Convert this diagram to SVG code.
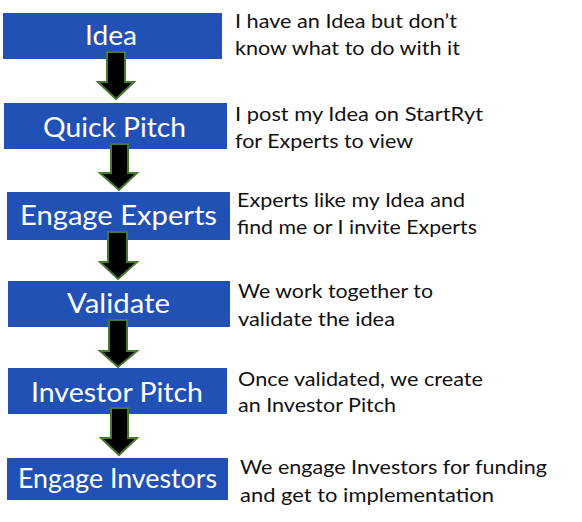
<svg xmlns="http://www.w3.org/2000/svg" width="582" height="522" viewBox="0 0 582 522">
  <style>
    .box { fill: #2251B6; }
    .label { font-family: Lato, "Open Sans", "Liberation Sans", sans-serif; font-size: 26px; fill: #ffffff; }
    .note { font-family: Lato, "Open Sans", "Liberation Sans", sans-serif; font-size: 20px; fill: #111111; }
    .arrow { fill: #000000; stroke: #467A2C; stroke-width: 2; stroke-linejoin: miter; }
  </style>
  <rect width="582" height="522" fill="#ffffff"/>

  <!-- process steps -->
  <g id="step-idea">
    <rect class="box" x="3" y="13" width="219" height="46"/>
    <text class="label" x="85" y="45" textLength="52" lengthAdjust="spacingAndGlyphs">Idea</text>
  </g>
  <g id="step-quick-pitch">
    <rect class="box" x="4" y="103" width="223" height="46"/>
    <text class="label" x="43" y="137" textLength="143" lengthAdjust="spacingAndGlyphs">Quick Pitch</text>
  </g>
  <g id="step-engage-experts">
    <rect class="box" x="7" y="192" width="223" height="48"/>
    <text class="label" x="20" y="225" textLength="197" lengthAdjust="spacingAndGlyphs">Engage Experts</text>
  </g>
  <g id="step-validate">
    <rect class="box" x="8" y="281" width="222" height="46"/>
    <text class="label" x="67" y="313" textLength="103" lengthAdjust="spacingAndGlyphs">Validate</text>
  </g>
  <g id="step-investor-pitch">
    <rect class="box" x="8" y="368" width="219" height="46"/>
    <text class="label" x="31" y="402" textLength="172" lengthAdjust="spacingAndGlyphs">Investor Pitch</text>
  </g>
  <g id="step-engage-investors">
    <rect class="box" x="7" y="458" width="221" height="42"/>
    <text class="label" x="18" y="488" textLength="199" lengthAdjust="spacingAndGlyphs">Engage Investors</text>
  </g>

  <!-- connectors: block arrows between steps -->
  <g id="connectors">
    <polygon class="arrow" points="107,52 125,52 125,82 134,82 116,99 98,82 107,82"/>
    <polygon class="arrow" points="111,144 128,144 128,173 137,173 119,190 100,173 111,173"/>
    <polygon class="arrow" points="108,232 127,232 127,262 137,262 118,279 100,262 108,262"/>
    <polygon class="arrow" points="109,320 127,320 127,351 137,351 118,367 100,351 109,351"/>
    <polygon class="arrow" points="111,408 128,408 128,438 137,438 119,455 101,438 111,438"/>
  </g>

  <!-- descriptions -->
  <g id="notes">
    <text class="note" x="235" y="28" textLength="222" lengthAdjust="spacingAndGlyphs">I have an Idea but don’t</text>
    <text class="note" x="235" y="55" textLength="225" lengthAdjust="spacingAndGlyphs">know what to do with it</text>
    <text class="note" x="235" y="121" textLength="248" lengthAdjust="spacingAndGlyphs">I post my Idea on StartRyt</text>
    <text class="note" x="235" y="148" textLength="178" lengthAdjust="spacingAndGlyphs">for Experts to view</text>
    <text class="note" x="237" y="207" textLength="228" lengthAdjust="spacingAndGlyphs">Experts like my Idea and</text>
    <text class="note" x="237" y="234" textLength="240" lengthAdjust="spacingAndGlyphs">find me or I invite Experts</text>
    <text class="note" x="238" y="298" textLength="195" lengthAdjust="spacingAndGlyphs">We work together to</text>
    <text class="note" x="238" y="326" textLength="157" lengthAdjust="spacingAndGlyphs">validate the idea</text>
    <text class="note" x="238" y="386" textLength="245" lengthAdjust="spacingAndGlyphs">Once validated, we create</text>
    <text class="note" x="238" y="412" textLength="158" lengthAdjust="spacingAndGlyphs">an Investor Pitch</text>
    <text class="note" x="240" y="474" textLength="307" lengthAdjust="spacingAndGlyphs">We engage Investors for funding</text>
    <text class="note" x="240" y="502" textLength="254" lengthAdjust="spacingAndGlyphs">and get to implementation</text>
  </g>
</svg>
